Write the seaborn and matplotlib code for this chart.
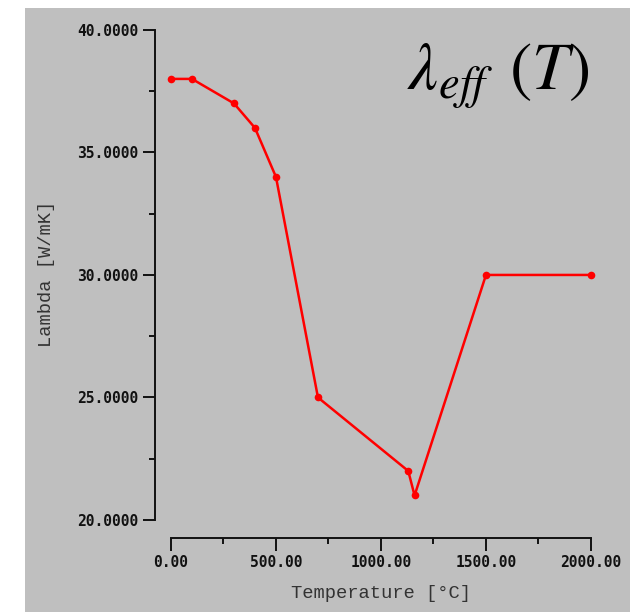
import matplotlib
matplotlib.use("Agg")
import matplotlib.pyplot as plt
import seaborn as sns
import pandas as pd
from matplotlib.ticker import FixedLocator, MultipleLocator

temperature = [0, 100, 300, 400, 500, 700, 1130, 1160, 1500, 2000]
lambda_vals = [38, 38, 37, 36, 34, 25, 22, 21, 30, 30]
x_ticks = [0, 500, 1000, 1500, 2000]
x_tick_labels = ["0.00", "500.00", "1000.00", "1500.00", "2000.00"]
y_ticks = [20, 25, 30, 35, 40]
y_tick_labels = ["20.0000", "25.0000", "30.0000", "35.0000", "40.0000"]

df = pd.DataFrame({"T": temperature, "L": lambda_vals})

sns.set_style("white")
plt.rcParams["font.family"] = ["DejaVu Sans"]
plt.rcParams["mathtext.fontset"] = "stix"

W, H = 630, 612
fig = plt.figure(figsize=(W / 100, H / 100), dpi=100, facecolor="white")
bg = fig.add_axes([25 / W, 0, 1 - 25 / W, 1 - 8 / H], zorder=-5)
bg.set_facecolor("#bfbfbf")
bg.set_xticks([])
bg.set_yticks([])
for s in bg.spines.values():
    s.set_visible(False)

ax = fig.add_axes([155 / W, (H - 538) / H, (600 - 155) / W, (538 - 25) / H], zorder=1)
ax.set_facecolor("none")

sns.lineplot(data=df, x="T", y="L", ax=ax, color="#ff0000", linewidth=1.8,
             marker="o", markersize=5.5, markeredgewidth=0, sort=False)

ax.set_xlim(-76, 2043)
ax.set_ylim(19.265, 40.2)

for s in ["top", "right"]:
    ax.spines[s].set_visible(False)
ax.spines["left"].set_bounds(20, 40)
ax.spines["bottom"].set_bounds(0, 2000)
for s in ["left", "bottom"]:
    ax.spines[s].set_color("#111111")
    ax.spines[s].set_linewidth(1.4)

ax.xaxis.set_major_locator(FixedLocator(x_ticks))
ax.set_xticklabels(x_tick_labels)
ax.xaxis.set_minor_locator(MultipleLocator(250))
ax.yaxis.set_major_locator(FixedLocator(y_ticks))
ax.set_yticklabels(y_tick_labels)
ax.yaxis.set_minor_locator(MultipleLocator(2.5))

ax.tick_params(axis="both", which="both", bottom=True, left=True, top=False, right=False)
ax.tick_params(axis="both", which="major", direction="out", length=9, width=1.4,
               color="#111111", labelsize=10.5, pad=3)
ax.tick_params(axis="both", which="minor", direction="out", length=4.5, width=1.4,
               color="#111111")
for lab in ax.get_xticklabels() + ax.get_yticklabels():
    lab.set_fontfamily("DejaVu Sans Mono")
    lab.set_fontweight("bold")
    lab.set_color("#111111")

ax.set_xlabel("")
ax.set_ylabel("")
fig.text(381 / W, 1 - 593 / H, "Temperature [°C]", family="Liberation Mono",
         fontsize=13.5, color="#333333", ha="center", va="center")
fig.text(47 / W, 1 - 274 / H, "Lambda [W/mK]", family="Liberation Mono",
         fontsize=13.5, color="#333333", ha="center", va="center", rotation=90)

fig.text(498 / W, 1 - 76 / H, r"$\lambda_{eff}\;\,(T)$", fontsize=48,
         color="black", ha="center", va="center")

fig.savefig("out.png", dpi=100, facecolor="white")
